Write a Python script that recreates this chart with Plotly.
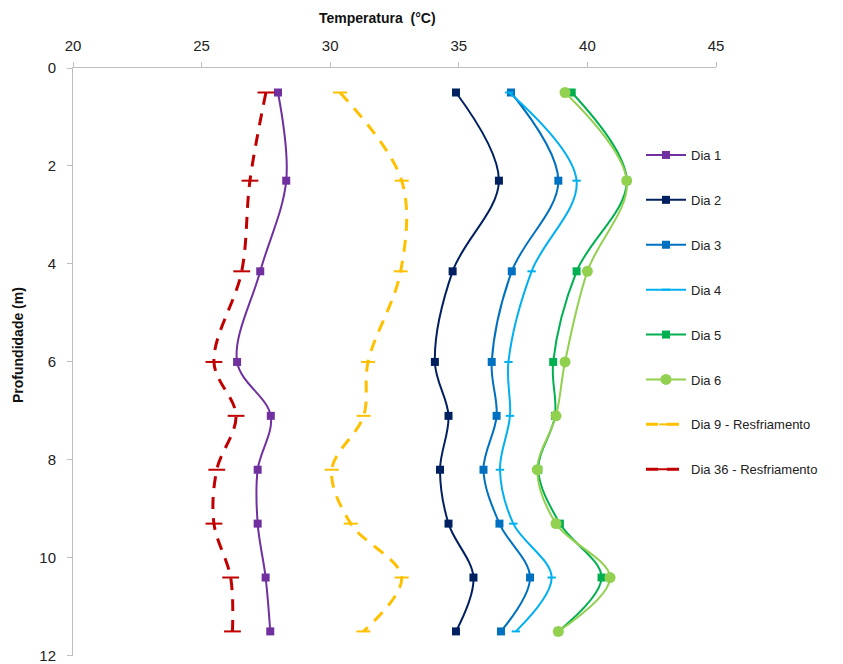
import plotly.graph_objects as go

depth = [0.5, 2.3, 4.15, 6.0, 7.1, 8.2, 9.3, 10.4, 11.5]

dia1 = [27.97, 28.29, 27.28, 26.38, 27.69, 27.18, 27.18, 27.49, 27.67]
dia2 = [34.89, 36.56, 34.76, 34.07, 34.60, 34.27, 34.60, 35.57, 34.89]
dia3 = [37.03, 38.87, 37.06, 36.28, 36.47, 35.96, 36.58, 37.77, 36.64]
dia4 = [36.96, 39.58, 37.83, 36.93, 36.99, 36.60, 37.12, 38.61, 37.22]
dia5 = [39.39, 41.53, 39.58, 38.67, 38.74, 38.09, 38.93, 40.55, 38.87]
dia6 = [39.13, 41.53, 40.00, 39.13, 38.78, 38.05, 38.78, 40.88, 38.87]
dia9 = [30.38, 32.78, 32.74, 31.47, 31.30, 30.06, 30.80, 32.78, 31.29]
dia36 = [27.50, 26.88, 26.56, 25.48, 26.34, 25.59, 25.48, 26.13, 26.20]

names = ["Dia 1", "Dia 2", "Dia 3", "Dia 4", "Dia 5", "Dia 6",
         "Dia 9 - Resfriamento", "Dia 36 - Resfriamento"]
series = [dia1, dia2, dia3, dia4, dia5, dia6, dia9, dia36]
colors = ["#7030A0", "#002060", "#0070C0", "#00B0F0", "#00B050", "#92D050",
          "#FFC000", "#C00000"]
symbols = ["square", "square", "square", "line-ew-open", "square", "circle",
           "line-ew-open", "line-ew-open"]
msizes = [8, 8, 8, 6, 8, 11, 10, 12]
widths = [2, 2, 2, 2, 2, 2, 3, 3]
dashes = ["solid"] * 6 + ["12px,9px", "12px,9px"]

fig = go.Figure()
for i, (nm, vals) in enumerate(zip(names, series)):
    fig.add_trace(go.Scatter(
        x=vals, y=depth, name=nm, mode="lines+markers",
        line=dict(color=colors[i], width=widths[i], dash=dashes[i], shape="spline", smoothing=1.0),
        marker=dict(symbol=symbols[i], size=msizes[i], color=colors[i],
                    line=dict(color=colors[i], width=2 if symbols[i].startswith("line") else 0)),
        legendgroup=nm,
    ))

L, R, T, B = 73, 716, 68, 656
W, H = 843, 664

fig.update_layout(
    width=W, height=H,
    margin=dict(l=L, r=W - R, t=T, b=H - B),
    paper_bgcolor="white", plot_bgcolor="white",
    font=dict(family="Liberation Sans, Arial, sans-serif", size=14, color="#222"),
    showlegend=True,
    legend=dict(x=(641 - L) / (R - L), y=(B - 140) / (B - T), xanchor="left", yanchor="top",
                bgcolor="rgba(0,0,0,0)", font=dict(size=13, color="#222"),
                tracegroupgap=25, itemwidth=40),
    xaxis=dict(side="top", range=[20, 45], tickvals=[20, 25, 30, 35, 40, 45],
               showgrid=False, zeroline=False, showline=True, linecolor="#BFBFBF",
               linewidth=1, ticks="outside", ticklen=5, tickcolor="#BFBFBF",
               ticklabelstandoff=5, ticklabeloverflow="allow", automargin=False,
               tickfont=dict(size=15, color="#222")),
    yaxis=dict(range=[12.002, 0], tickvals=[0, 2, 4, 6, 8, 10, 12],
               showgrid=False, zeroline=False, showline=True, linecolor="#BFBFBF",
               linewidth=1, ticks="outside", ticklen=5, tickcolor="#BFBFBF",
               ticklabelstandoff=8, ticklabeloverflow="allow", automargin=False,
               tickfont=dict(size=15, color="#222")),
    annotations=[
        dict(text="<b>Temperatura  (°C)</b>", x=(377 - L) / (R - L), y=(B - 18) / (B - T),
             xref="paper", yref="paper", xanchor="center", yanchor="middle",
             showarrow=False, font=dict(size=14, color="#111")),
        dict(text="<b>Profundidade (m)</b>", x=(18 - L) / (R - L), y=(B - 345) / (B - T),
             xref="paper", yref="paper", xanchor="center", yanchor="middle",
             showarrow=False, textangle=-90,
             font=dict(size=14, color="#111")),
    ],
)

fig.write_html("out.html")
